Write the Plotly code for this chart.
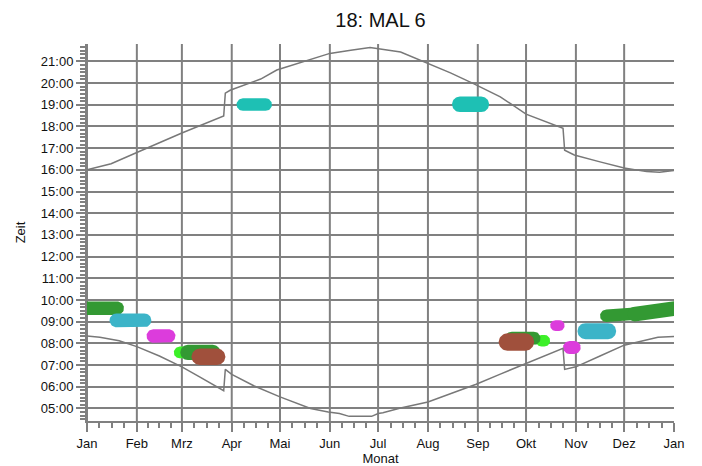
import numpy as np
import plotly.graph_objects as go

# ---------------- data ----------------
month_labels = ["Jan", "Feb", "Mrz", "Apr", "Mai", "Jun", "Jul", "Aug", "Sep", "Okt", "Nov", "Dez", "Jan"]
month_start_day = [0, 31, 59, 90, 120, 151, 181, 212, 243, 273, 304, 334, 365]
hour_ticks = list(range(5, 22))
hour_labels = [f"{h:02d}:00" for h in hour_ticks]

# sunrise (lower curve): day of year, local time
sunrise_day = [0, 8, 20, 31, 45, 59, 70, 85, 86, 90, 104, 120, 139, 150, 157, 163, 177, 181, 184,
               195, 212, 229, 242, 257, 273, 288, 296, 297, 304, 319, 334, 355, 365]
sunrise_time = ["08:20", "08:17", "08:07", "07:51", "07:25", "06:55", "06:27", "05:49", "06:48", "06:34",
                "06:02", "05:32", "05:00", "04:50", "04:46", "04:38", "04:38", "04:46", "04:48",
                "05:01", "05:18", "05:45", "06:07", "06:35", "07:05", "07:31", "07:46", "06:48",
                "06:55", "07:25", "07:55", "08:17", "08:19"]

# sunset (upper curve)
sunset_day = [0, 15, 31, 59, 85, 86, 89, 108, 118, 151, 164, 176, 195, 212, 226, 240, 257, 273,
              288, 296, 297, 303, 319, 334, 348, 356, 365]
sunset_time = ["16:00", "16:17", "16:48", "17:42", "18:29", "19:32", "19:40", "20:11", "20:36",
               "21:22", "21:31", "21:38", "21:26", "20:55", "20:28", "19:59", "19:22", "18:34",
               "18:09", "17:55", "16:54", "16:41", "16:22", "16:05", "15:55", "15:53", "15:58"]

# activity clusters: first/last day, centre time at start/end (h), half time span (h)
blob_day_start = [-10, 14, 37, 54, 58, 65, 93, 227, 279, 260, 256, 288, 296, 305, 319, 336]
blob_day_end = [23, 40, 55, 66, 83, 86, 115, 250, 288, 282, 278, 297, 307, 329, 342, 372]
blob_time_start = [9.62, 9.06, 8.34, 7.58, 7.58, 7.38, 19.01, 19.02, 8.12, 8.23, 8.06, 8.82, 7.81, 8.56, 9.27, 9.35]
blob_time_end = [9.62, 9.06, 8.34, 7.58, 7.58, 7.38, 19.01, 19.02, 8.12, 8.23, 8.06, 8.82, 7.81, 8.56, 9.35, 9.62]
blob_half_span = [0.31, 0.32, 0.31, 0.27, 0.35, 0.38, 0.29, 0.36, 0.27, 0.31, 0.40, 0.25, 0.30, 0.37, 0.29, 0.34]
blob_color = ["#339933", "#3cb4c8", "#dc3cdc", "#3cf028", "#339933", "#a0503c", "#1ec0b4", "#1ec0b4",
              "#3cf028", "#339933", "#a0503c", "#dc3cdc", "#dc3cdc", "#3cb4c8", "#339933", "#339933"]

# ---------------- layout constants ----------------
W, H = 702, 466
ML, MR, MT, MB = 87, 28, 44, 45
X_RANGE = [0, 365]
Y_RANGE = [4.42, 21.8]
GRID = "#808080"
FONT = "Arial, 'Liberation Sans', sans-serif"


def to_hours(s):
    h, m = s.split(":")
    return int(h) + int(m) / 60.0


px_per_day = (W - ML - MR) / (X_RANGE[1] - X_RANGE[0])
px_per_hour = (H - MT - MB) / (Y_RANGE[1] - Y_RANGE[0])

fig = go.Figure()

# clusters drawn as rounded bars (stadium shapes)
for d0, d1, t0, t1, hs, col in zip(blob_day_start, blob_day_end, blob_time_start, blob_time_end,
                                   blob_half_span, blob_color):
    r_px = hs * px_per_hour
    rd = r_px / px_per_day
    c0 = d0 + rd
    c1 = max(d1 - rd, c0)
    th_l = np.linspace(np.pi / 2, 3 * np.pi / 2, 24)
    th_r = np.linspace(-np.pi / 2, np.pi / 2, 24)
    xs = list(c0 + rd * np.cos(th_l)) + list(c1 + rd * np.cos(th_r))
    ys = list(t0 + hs * np.sin(th_l)) + list(t1 + hs * np.sin(th_r))
    xs.append(xs[0])
    ys.append(ys[0])
    fig.add_trace(go.Scatter(x=xs, y=ys, mode="lines", fill="toself", fillcolor=col,
                             line=dict(width=0, color=col), hoverinfo="skip", showlegend=False))

fig.add_trace(go.Scatter(x=sunrise_day, y=[to_hours(t) for t in sunrise_time], mode="lines",
                         line=dict(color="#787878", width=1.5), showlegend=False, hoverinfo="skip"))
fig.add_trace(go.Scatter(x=sunset_day, y=[to_hours(t) for t in sunset_time], mode="lines",
                         line=dict(color="#787878", width=1.5), showlegend=False, hoverinfo="skip"))

# month grid lines (none at the closing January edge)
for d in month_start_day[:-1]:
    fig.add_shape(type="line", xref="x", yref="y domain", x0=d, x1=d, y0=0, y1=1,
                  line=dict(color=GRID, width=2), layer="below")

# minor ticks: quarter months
minor_x = []
for a, b in zip(month_start_day[:-1], month_start_day[1:]):
    minor_x += [a + (b - a) * k / 4 for k in (1, 2, 3)]

fig.update_layout(
    width=W, height=H,
    margin=dict(l=ML, r=MR, t=MT, b=MB, autoexpand=False),
    paper_bgcolor="white", plot_bgcolor="white",
    font=dict(family=FONT, size=13, color="#111111"),
    title=dict(text="18: MAL 6", x=0.5, xref="paper", xanchor="center", y=1 - 20 / H, yanchor="middle",
               font=dict(family=FONT, size=20, color="#111111")),
    showlegend=False,
)
fig.update_xaxes(
    range=X_RANGE, tickmode="array", tickvals=month_start_day, ticktext=month_labels,
    showgrid=False, zeroline=False,
    showline=True, linecolor=GRID, linewidth=2,
    ticks="outside", ticklen=9, tickwidth=2, tickcolor=GRID,
    minor=dict(tickmode="array", tickvals=minor_x, ticks="outside", ticklen=5, tickwidth=2,
               tickcolor=GRID, showgrid=False),
    tickfont=dict(family=FONT, size=13, color="#111111"),
    title=dict(text="Monat", standoff=2, font=dict(family=FONT, size=13, color="#111111")),
)
fig.update_yaxes(
    range=Y_RANGE, tickmode="array", tickvals=hour_ticks, ticktext=hour_labels,
    showgrid=True, gridcolor=GRID, gridwidth=2, zeroline=False,
    showline=True, linecolor=GRID, linewidth=2,
    ticks="outside", ticklen=9, tickwidth=2, tickcolor=GRID,
    minor=dict(dtick=1 / 6, tick0=0, ticks="outside", ticklen=5, tickwidth=2,
               tickcolor=GRID, showgrid=False),
    tickfont=dict(family=FONT, size=13, color="#111111"),
    title=dict(text="Zeit", standoff=12, font=dict(family=FONT, size=13, color="#111111")),
)

fig.write_html("out.html", config={"displayModeBar": False},
               post_script="document.body.style.margin='0';document.body.style.overflow='hidden';")
